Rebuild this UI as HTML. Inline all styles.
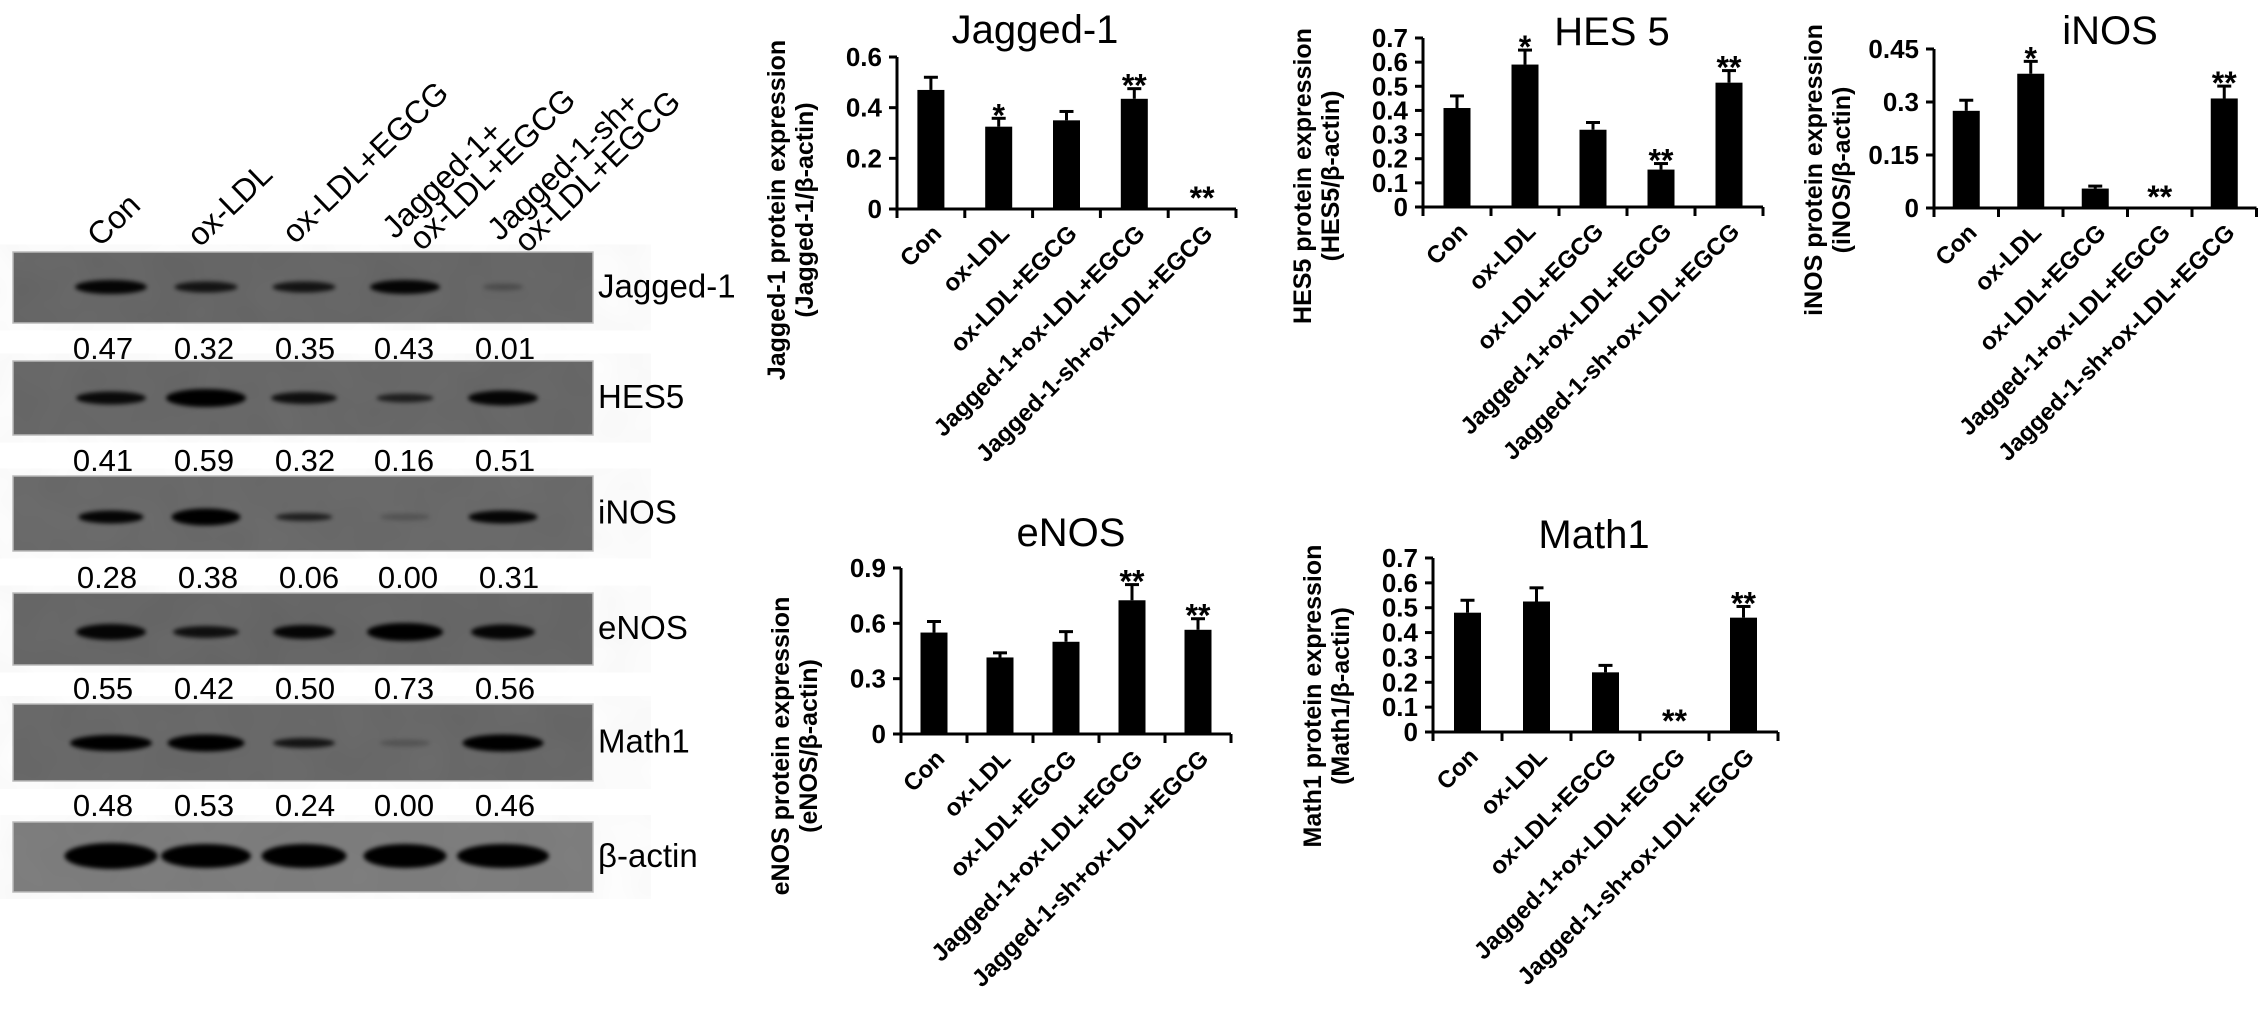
<!DOCTYPE html>
<html><head><meta charset="utf-8"><style>
html,body{margin:0;padding:0;background:#fff;}
svg{display:block;font-family:"Liberation Sans",Arial,sans-serif;}
</style></head><body>
<svg id="fig" width="2268" height="1012" viewBox="0 0 2268 1012" xmlns="http://www.w3.org/2000/svg">
<defs>
<filter id="blur" x="-30%" y="-100%" width="160%" height="300%"><feGaussianBlur stdDeviation="2.2"/></filter>
<filter id="noise"><feTurbulence type="fractalNoise" baseFrequency="0.02" numOctaves="2" seed="3"/><feColorMatrix values="0 0 0 0 0.4  0 0 0 0 0.4  0 0 0 0 0.4  0 0 0 0.1 0"/></filter>
</defs>
<g id="blot"></g>
<g id="charts"></g>
</svg>
<script>
const NS='http://www.w3.org/2000/svg';
function mk(tag,attrs,parent,text){const e=document.createElementNS(NS,tag);for(const k in attrs)e.setAttribute(k,attrs[k]);if(text!==undefined)e.textContent=text;parent.appendChild(e);return e;}

// ---------- Blot data ----------
const blotNames=['Jagged-1','HES5','iNOS','eNOS','Math1','β-actin'];
const blotNumbers=[
 ['0.47','0.32','0.35','0.43','0.01'],
 ['0.41','0.59','0.32','0.16','0.51'],
 ['0.28','0.38','0.06','0.00','0.31'],
 ['0.55','0.42','0.50','0.73','0.56'],
 ['0.48','0.53','0.24','0.00','0.46']];
const laneHeaders=[['Con'],['ox-LDL'],['ox-LDL+EGCG'],['Jagged-1+','ox-LDL+EGCG'],['Jagged-1-sh+','ox-LDL+EGCG']];
const bandIntensity=[
 [0.95,0.8,0.8,0.95,0.25],
 [0.9,1,0.85,0.7,0.95],
 [0.95,1,0.7,0.2,0.95],
 [0.95,0.85,0.95,1,0.95],
 [1,1,0.8,0.2,1],
 [1,1,1,1,1]];
const bandThick=[
 [12,9,9,12,5],
 [11,16,10,7,13],
 [11,15,6,5,11],
 [14,10,12,16,13],
 [14,15,8,5,15],
 [24,22,22,22,22]];

const blot=document.getElementById('blot');
const panelTop=[252,361,476,593,704,822];
const panelBot=[323,435,551,665,781,892];
const bandY=[287,398,517,632,743,856];
const laneX=[111,206,304,405,503];
const laneW=[[72,63,63,70,40],[70,80,66,57,70],[65,69,57,50,69],[70,66,62,76,64],[82,77,62,50,81],[93,90,85,83,92]];
const numX=[103,204,305,404,505];
const numY=[348,460,577,688,805];
const panelFill=['#636363','#646464','#666666','#636363','#656565','#7a7a7a'];

laneHeaders.forEach((lines,i)=>{
  const sx=[100,200,295,395,500][i], sy=[248,248,245,240,242][i];
  lines.forEach((t,j)=>{
    const x=sx+j*27, y=sy+j*12;
    const e=mk('text',{x:x,y:y,'font-size':32,transform:`rotate(-44 ${x} ${y})`},blot,t);
    
    
  });
});

blotNames.forEach((name,p)=>{
  const g=mk('g',{},blot);
  
  
  mk('rect',{x:13,y:panelTop[p],width:580,height:panelBot[p]-panelTop[p],fill:panelFill[p],stroke:'#bbb','stroke-width':1.5},g);
  mk('rect',{x:13,y:panelTop[p],width:580,height:panelBot[p]-panelTop[p],filter:'url(#noise)'},g);
  laneX.forEach((lx,i)=>{
    const v=bandIntensity[p][i];
    const b=mk('ellipse',{cx:lx,cy:bandY[p],rx:laneW[p][i]/2,ry:bandThick[p][i]/2+1,fill:'#050505',opacity:v,filter:'url(#blur)'},g);
    
    
  });
  const l=mk('text',{x:598,y:(panelTop[p]+panelBot[p])/2+10,'font-size':33},g,name);
  
  
  if(p<5){
    blotNumbers[p].forEach((t,i)=>{
      const n=mk('text',{x:numX[i]+(p==2?4:0),y:numY[p]+11,'font-size':31,'text-anchor':'middle'},blot,t);
      
      
    });
  }
});

// ---------- Chart data ----------
const categories=['Con','ox-LDL','ox-LDL+EGCG','Jagged-1+ox-LDL+EGCG','Jagged-1-sh+ox-LDL+EGCG'];
const jaggedValues=[0.47,0.325,0.35,0.435,0];
const jaggedErrors=[0.05,0.033,0.035,0.04,0];
const jaggedStars=['','*','','**','**'];
const jaggedTicks=[0,0.2,0.4,0.6];
const hesValues=[0.41,0.59,0.32,0.155,0.515];
const hesErrors=[0.05,0.06,0.03,0.025,0.05];
const hesStars=['','*','','**','**'];
const hesTicks=[0,0.1,0.2,0.3,0.4,0.5,0.6,0.7];
const inosValues=[0.275,0.38,0.055,0,0.31];
const inosErrors=[0.03,0.035,0.007,0,0.035];
const inosStars=['','*','','**','**'];
const inosTicks=[0,0.15,0.3,0.45];
const enosValues=[0.55,0.415,0.5,0.725,0.565];
const enosErrors=[0.06,0.025,0.055,0.085,0.06];
const enosStars=['','','','**','**'];
const enosTicks=[0,0.3,0.6,0.9];
const mathValues=[0.48,0.525,0.24,0,0.46];
const mathErrors=[0.05,0.055,0.028,0,0.045];
const mathStars=['','','','**','**'];
const mathTicks=[0,0.1,0.2,0.3,0.4,0.5,0.6,0.7];

const charts=[
 {id:'jagged',title:'Jagged-1',tx:1035,ty:43,ylab:['Jagged-1 protein expression','(Jagged-1/β-actin)'],ax:897,y0:209,ytop:57,sp:67.8,vals:jaggedValues,errs:jaggedErrors,stars:jaggedStars,ticks:jaggedTicks,fmt:v=>v===0?'0':v.toFixed(1),ly:210},
 {id:'hes5',title:'HES 5',tx:1612,ty:45,ylab:['HES5 protein expression','(HES5/β-actin)'],ax:1423,y0:207,ytop:38,sp:68,vals:hesValues,errs:hesErrors,stars:hesStars,ticks:hesTicks,fmt:v=>v===0?'0':v.toFixed(1),ly:176},
 {id:'inos',title:'iNOS',tx:2110,ty:44,ylab:['iNOS protein expression','(iNOS/β-actin)'],ax:1934,y0:208,ytop:49,sp:64.5,vals:inosValues,errs:inosErrors,stars:inosStars,ticks:inosTicks,fmt:v=>v===0?'0':String(v),ly:170},
 {id:'enos',title:'eNOS',tx:1071,ty:546,ylab:['eNOS protein expression','(eNOS/β-actin)'],ax:901,y0:734,ytop:568,sp:66,vals:enosValues,errs:enosErrors,stars:enosStars,ticks:enosTicks,fmt:v=>v===0?'0':v.toFixed(1),ly:746},
 {id:'math1',title:'Math1',tx:1594,ty:548,ylab:['Math1 protein expression','(Math1/β-actin)'],ax:1433,y0:732,ytop:558,sp:69,vals:mathValues,errs:mathErrors,stars:mathStars,ticks:mathTicks,fmt:v=>v===0?'0':v.toFixed(1),ly:696}
];

const root=document.getElementById('charts');
charts.forEach(c=>{
  const g=mk('g',{},root);
  
  
  const ymax=c.ticks[c.ticks.length-1];
  const yS=v=>c.y0-(v/ymax)*(c.y0-c.ytop);
  const xS=i=>c.ax+c.sp*(i+0.5);
  const xEnd=c.ax+c.sp*categories.length;
  const t=mk('text',{x:c.tx,y:c.ty,'font-size':40,'text-anchor':'middle'},g,c.title);
  
  
  const lx=c.ax-112;
  c.ylab.forEach((s,j)=>{
    const x=lx+j*28;
    const e=mk('text',{x:x,y:c.ly,'font-size':25,'font-weight':'bold','text-anchor':'middle',transform:`rotate(-90 ${x} ${c.ly})`},g,s);
    
    
  });
  mk('line',{x1:c.ax,y1:c.ytop,x2:c.ax,y2:c.y0+1.5,stroke:'#000','stroke-width':3},g);
  mk('line',{x1:c.ax-1.5,y1:c.y0,x2:xEnd,y2:c.y0,stroke:'#000','stroke-width':3},g);
  c.ticks.forEach(v=>{
    const y=yS(v);
    mk('line',{x1:c.ax-8,y1:y,x2:c.ax,y2:y,stroke:'#000','stroke-width':3},g);
    const e=mk('text',{x:c.ax-15,y:y+9,'font-size':26,'font-weight':'bold','text-anchor':'end'},g,c.fmt(v));
    
    
  });
  for(let i=0;i<=categories.length;i++){
    const x=c.ax+c.sp*i;
    mk('line',{x1:x,y1:c.y0,x2:x,y2:c.y0+9,stroke:'#000','stroke-width':3},g);
  }
  categories.forEach((cat,i)=>{
    const x=xS(i), v=c.vals[i], e=c.errs[i];
    if(v>0){
      const top=yS(v+e);
      mk('line',{x1:x,y1:top,x2:x,y2:yS(v),stroke:'#000','stroke-width':3},g);
      mk('line',{x1:x-7,y1:top,x2:x+7,y2:top,stroke:'#000','stroke-width':3},g);
      const b=mk('rect',{x:x-13.5,y:yS(v),width:27,height:c.y0-yS(v),fill:'#000'},g);
      
      
    }
    if(c.stars[i]){
      const sy=v>0?yS(v+e)-6:c.y0-14;
      const s=mk('text',{x:x,y:sy+14,'font-size':32,'font-weight':'bold','text-anchor':'middle'},g,c.stars[i]);
      
      
    }
    const ax=x+12, ay=c.y0+26;
    const l=mk('text',{x:ax,y:ay,'font-size':24,'font-weight':'bold','text-anchor':'end',transform:`rotate(-45 ${ax} ${ay})`},g,cat);
    
    
  });
});
</script>
</body></html>
